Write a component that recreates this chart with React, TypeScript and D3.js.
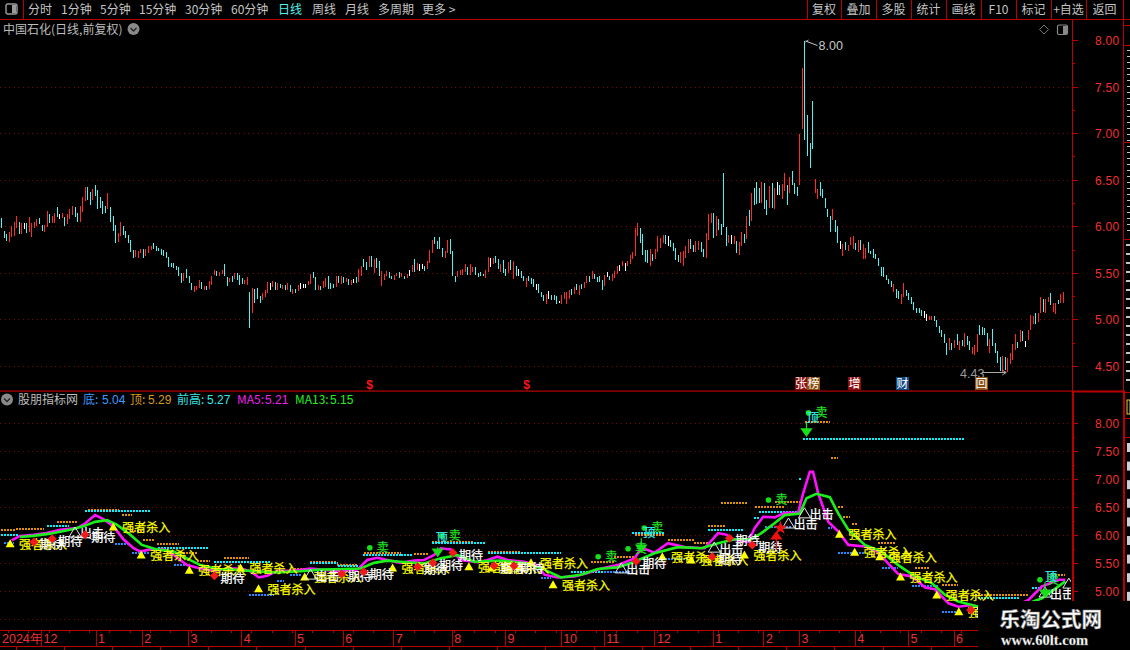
import React from "react";
import * as d3 from "d3";

type Tone = "r" | "c" | "w";
type Bar = [number, number, Tone];
const r: Tone = "r", c: Tone = "c", w: Tone = "w";

const barsEarly: Bar[] = [
[6.09,5.99,c],[5.95,5.88,c],[5.92,5.85,c],[5.94,5.84,r],[6.01,5.89,r],[6.05,5.90,r],[6.12,5.99,r],[6.05,5.92,c],[6.04,5.92,r],[6.04,5.98,w],
[6.04,5.93,c],[6.11,5.94,r],[6.04,5.89,r],[6.05,5.99,r],[6.08,6.01,r],[6.09,6.03,c],[6.02,5.95,c],[6.02,5.94,r],[6.17,6.00,r],[6.14,6.04,c],
[6.12,6.04,r],[6.15,6.04,r],[6.21,6.11,c],[6.14,6.08,w],[6.15,6.09,r],[6.11,6.01,c],[6.14,6.03,r],[6.19,6.08,r],[6.22,6.13,r],[6.21,6.11,c],
[6.15,6.05,c],[6.22,6.05,r],[6.32,6.16,r],[6.43,6.28,r],[6.43,6.29,c],[6.37,6.23,c],[6.41,6.29,r],[6.45,6.33,c],[6.40,6.19,c],[6.32,6.20,c],
[6.28,6.14,c],[6.22,6.15,c],[6.36,6.19,r],[6.21,6.05,c],[6.12,5.95,c],[6.02,5.83,c],[5.93,5.84,r],[6.05,5.90,r],[6.01,5.91,c],[5.95,5.88,c],
[5.91,5.83,c],[5.86,5.73,c],[5.75,5.66,c],[5.75,5.68,r],[5.74,5.66,r],[5.76,5.72,r],[5.76,5.66,c],[5.76,5.69,r],[5.79,5.72,r],[5.79,5.75,r],
[5.83,5.76,c],[5.79,5.74,c],[5.77,5.74,c],[5.76,5.70,c],[5.75,5.69,c],[5.73,5.66,c],[5.68,5.57,c],[5.61,5.57,c],[5.61,5.56,c],[5.58,5.54,c],
[5.57,5.47,c],[5.50,5.40,c],[5.50,5.42,r],[5.55,5.45,c],[5.47,5.40,c],[5.40,5.32,c],[5.36,5.30,r],[5.36,5.32,r],[5.43,5.34,r],[5.41,5.33,c],
[5.36,5.32,r],[5.36,5.32,c],[5.42,5.33,r],[5.47,5.37,r],[5.54,5.48,r],[5.53,5.47,c],[5.51,5.47,r],[5.54,5.49,r],[5.60,5.47,c],[5.46,5.36,c],
[5.45,5.41,r],[5.47,5.41,c],[5.50,5.44,r],[5.50,5.43,c],[5.48,5.37,c],[5.45,5.39,c],[5.43,5.39,r],[5.46,5.37,r],[5.30,4.91,c],[5.34,5.07,r],
[5.33,5.18,c],[5.34,5.22,c],[5.26,5.18,c],[5.29,5.21,r],[5.32,5.25,r],[5.41,5.29,r],[5.40,5.32,w],[5.42,5.35,r],[5.41,5.32,c],[5.40,5.32,r],
[5.39,5.34,c],[5.37,5.33,r],[5.37,5.32,c],[5.40,5.32,r],[5.37,5.30,c],[5.33,5.28,r],[5.33,5.29,c],[5.37,5.31,r],[5.40,5.33,w],[5.39,5.34,w],
[5.39,5.34,w],[5.42,5.37,r],[5.49,5.39,r],[5.51,5.45,c],[5.46,5.32,c],[5.37,5.32,r],[5.36,5.32,c],[5.42,5.34,r],[5.45,5.35,r],[5.47,5.33,c],
[5.40,5.33,c],[5.39,5.34,c],[5.47,5.35,r],[5.47,5.40,c],[5.47,5.39,r],[5.46,5.40,c],[5.45,5.41,r],[5.44,5.37,c],[5.43,5.37,r],[5.44,5.40,w],
[5.46,5.40,c],[5.55,5.41,r],[5.58,5.47,r],[5.65,5.57,c],[5.62,5.54,c],[5.69,5.57,r],[5.69,5.57,c],[5.65,5.50,r],[5.66,5.56,c],[5.63,5.47,c],
[5.52,5.36,r],[5.49,5.43,r],[5.52,5.47,r],[5.51,5.45,c],[5.47,5.44,c],[5.48,5.43,r],[5.50,5.47,r],[5.51,5.45,c],
];
const barsMiddle: Bar[] = [
[5.50,5.46,r],[5.47,5.44,c],[5.49,5.45,r],[5.54,5.47,w],[5.59,5.51,r],[5.65,5.51,c],[5.61,5.54,r],[5.60,5.52,w],[5.60,5.55,w],[5.58,5.52,c],
[5.63,5.55,r],[5.75,5.61,r],[5.86,5.72,r],[5.89,5.82,c],[5.85,5.76,c],[5.89,5.76,c],[5.77,5.68,c],[5.74,5.66,r],[5.86,5.72,r],[5.87,5.71,c],
[5.74,5.47,c],[5.47,5.41,c],[5.52,5.46,r],[5.54,5.48,r],[5.55,5.48,r],[5.60,5.51,r],[5.57,5.48,c],[5.60,5.48,r],[5.57,5.51,r],[5.57,5.48,c],
[5.50,5.46,c],[5.51,5.47,c],[5.49,5.47,c],[5.54,5.45,r],[5.68,5.51,r],[5.66,5.57,w],[5.66,5.60,r],[5.69,5.61,c],[5.65,5.55,c],[5.60,5.51,r],
[5.64,5.50,c],[5.55,5.47,c],[5.62,5.50,r],[5.64,5.54,c],[5.63,5.44,r],[5.58,5.47,c],[5.55,5.47,w],[5.52,5.45,c],[5.47,5.42,c],[5.45,5.35,r],
[5.47,5.42,c],[5.45,5.39,c],[5.44,5.35,c],[5.39,5.32,w],[5.39,5.29,c],[5.30,5.25,c],[5.27,5.20,c],[5.28,5.17,r],[5.31,5.22,w],[5.27,5.21,c],
[5.27,5.21,c],[5.26,5.17,c],[5.20,5.18,w],[5.27,5.17,r],[5.30,5.22,r],[5.30,5.17,r],[5.32,5.22,r],[5.33,5.27,c],[5.35,5.28,r],[5.39,5.32,c],
[5.37,5.27,r],[5.39,5.33,c],[5.41,5.34,r],[5.47,5.40,r],[5.47,5.41,c],[5.52,5.44,r],[5.49,5.44,c],[5.46,5.41,c],[5.47,5.41,c],[5.43,5.32,c],
[5.48,5.36,r],[5.51,5.46,w],[5.47,5.43,c],[5.49,5.42,r],[5.52,5.45,r],[5.58,5.49,r],[5.59,5.52,w],[5.63,5.58,r],[5.61,5.52,w],[5.63,5.58,r],
[5.70,5.60,r],[5.73,5.65,r],[5.99,5.69,r],[6.04,5.90,r],[5.99,5.83,c],[5.92,5.70,c],[5.75,5.62,c],[5.75,5.61,c],[5.76,5.58,r],[5.71,5.63,c],
[5.76,5.65,r],[5.90,5.73,r],[5.88,5.77,r],[5.91,5.83,r],[5.91,5.82,c],[5.90,5.79,w],[5.86,5.78,c],[5.83,5.74,c],[5.77,5.64,c],[5.70,5.62,c],
[5.73,5.61,r],[5.74,5.58,r],[5.79,5.66,r],[5.87,5.72,r],[5.87,5.76,c],[5.80,5.73,c],[5.85,5.73,r],[5.85,5.75,r],[5.84,5.73,c],[5.76,5.68,c],
[5.93,5.66,r],[6.14,5.86,r],[6.15,6.04,r],[6.15,5.88,c],[6.12,5.90,r],[6.08,5.97,c],[6.03,5.91,c],[6.58,6.00,c],[6.00,5.79,c],[5.91,5.83,r],
[5.91,5.82,w],[5.90,5.82,r],[5.85,5.72,c],[5.84,5.70,r],[5.94,5.79,r],[5.92,5.83,c],[6.12,5.87,r],[6.18,6.01,c],[6.36,6.06,r],[6.42,6.23,c],
[6.48,6.24,c],[6.42,6.26,c],[6.48,6.26,r],[6.47,6.19,c],[6.29,6.13,c],[6.44,6.20,r],[6.47,6.20,c],[6.42,6.19,r],[6.48,6.34,w],[6.45,6.34,c],
[6.46,6.30,r],[6.58,6.38,r],[6.45,6.23,c],[6.53,6.36,r],[6.60,6.45,c],[6.47,6.35,c],[6.43,6.33,c],
];
const barsLate: Bar[] = [
[7.00,6.45,r],[7.71,7.05,r],[8.00,6.93,c],[7.20,6.76,c],[6.90,6.63,c],[7.35,6.83,c],[6.51,6.36,r],[6.41,6.30,r],[6.48,6.33,c],[6.41,6.31,c],
[6.31,6.20,c],[6.19,6.10,c],[6.12,5.94,c],[6.19,6.07,r],[6.07,5.94,c],[6.01,5.83,c],[5.85,5.76,w],[5.81,5.69,r],[5.84,5.75,c],[5.80,5.74,r],
[5.89,5.80,r],[5.90,5.76,r],[5.83,5.75,c],[5.86,5.73,r],[5.86,5.75,c],[5.81,5.65,r],[5.77,5.65,r],[5.84,5.72,c],[5.74,5.71,c],[5.76,5.67,c],
[5.71,5.65,c],[5.66,5.58,c],[5.57,5.47,c],[5.57,5.46,c],[5.48,5.43,c],[5.44,5.39,c],[5.42,5.35,c],[5.39,5.30,r],[5.33,5.24,c],[5.31,5.22,c],
[5.28,5.17,r],[5.40,5.25,r],[5.32,5.26,c],[5.29,5.21,c],[5.25,5.17,c],[5.19,5.11,c],[5.13,5.07,c],[5.13,5.07,c],[5.11,5.04,c],[5.10,5.02,w],
[5.06,4.99,w],[5.04,5.00,r],[5.04,5.00,r],[5.04,4.99,c],[5.00,4.92,c],[4.93,4.86,c],[4.89,4.82,c],[4.85,4.75,c],[4.75,4.62,c],[4.81,4.68,r],
[4.75,4.68,c],[4.78,4.70,r],[4.85,4.73,c],[4.77,4.68,r],[4.78,4.72,c],[4.86,4.71,r],[4.83,4.73,c],[4.77,4.68,c],[4.71,4.63,r],[4.73,4.62,r],
[4.85,4.66,r],[4.95,4.84,c],[4.92,4.84,c],[4.91,4.84,c],[4.86,4.72,c],[4.80,4.64,r],[4.90,4.72,c],[4.75,4.64,c],[4.67,4.54,c],[4.60,4.45,c],
[4.61,4.44,r],[4.60,4.46,c],[4.59,4.44,r],[4.64,4.53,r],[4.74,4.57,r],[4.85,4.68,r],[4.76,4.70,c],[4.89,4.76,r],[4.88,4.77,c],[4.77,4.71,w],
[4.89,4.78,r],[5.05,4.89,r],[5.04,4.96,r],[5.07,4.96,c],[5.07,4.98,r],[5.25,5.07,r],[5.22,5.08,c],[5.23,5.07,r],[5.25,5.19,r],[5.29,5.16,c],
[5.18,5.09,r],[5.18,5.06,r],[5.21,5.17,c],[5.28,5.18,r],[5.30,5.18,r],
];
const bars: Bar[] = [...barsEarly, ...barsMiddle, ...barsLate];

const ma5: [number, number][] = [
[4.2,5.91],[7.5,5.99],[12.8,6.01],[18,6.04],[23.3,6.10],[30,6.13],[33.2,6.21],[37.1,6.36],[40.4,6.29],[44.4,6.16],[48.3,5.93],[52.3,5.77],[55,5.71],[58.9,5.75],[64.2,5.75],[68.1,5.65],[73.4,5.47],[78.7,5.41],[83.9,5.37],[89.2,5.41],[94.5,5.41],[98.4,5.36],[101.7,5.25],[105,5.28],[109,5.37],[115.5,5.37],[122.1,5.41],[126.1,5.39],[134,5.36],[140.6,5.39],[144.5,5.56],[148.5,5.60],[152.4,5.56],[157.7,5.51],
[163,5.55],[166.9,5.56],[170.9,5.65],[173.5,5.77],[177.5,5.75],[181.4,5.56],[188,5.52],[192,5.56],[195.9,5.62],[199.9,5.56],[206.4,5.53],[211.7,5.47],[214.4,5.30],[219.6,5.25],[226.2,5.27],[231.5,5.33],[236.8,5.41],[243.3,5.47],[249.9,5.59],[252.6,5.77],[255.2,5.74],[257.8,5.69],[263.1,5.86],[269.7,5.79],[277.6,5.77],[282.9,6.04],[286.2,6.01],[289.5,5.92],[294.7,5.88],
[297.4,6.13],[300.7,6.33],[305.3,6.32],[309.2,6.40],[314.5,6.40],[316.5,6.75],[319.1,7.13],[320.4,7.13],[322.4,6.75],[326.4,6.24],[330.3,6.07],[334.3,5.83],[340.8,5.80],[344.8,5.74],[348.8,5.56],[354,5.31],[359.3,5.27],[364.6,5.07],[368.5,5.04],[373.8,4.79],[377.7,4.73],[383,4.76],[394,4.62],[405.4,4.85],[410.7,5.09],[417.3,5.21],[419.9,5.21],
];
const ma13: [number, number][] = [
[7.5,5.97],[12.8,5.99],[19.4,6.03],[27.3,6.10],[32.5,6.16],[37.1,6.24],[41.8,6.27],[45.7,6.19],[51,6.01],[55.6,5.83],[61.5,5.75],[68.1,5.71],[74.7,5.56],[78.7,5.47],[85.2,5.40],[91.8,5.39],[99.7,5.36],[109,5.34],[118.2,5.36],[126.1,5.39],[135.3,5.40],[141.9,5.41],[147.2,5.51],[152.4,5.55],[157.7,5.53],
[166.9,5.50],[173.5,5.59],[180.1,5.65],[186.7,5.53],[197.2,5.55],[207.8,5.50],[214.4,5.39],[220.9,5.25],[228.8,5.30],[235.4,5.40],[243.3,5.43],[249.9,5.53],[257.8,5.68],[267,5.79],[276.3,5.77],[282.9,5.86],[289.5,5.93],
[296,5.93],[300,6.04],[305.3,6.22],[309.2,6.36],[315.2,6.39],[317.8,6.66],[321.7,6.74],[327,6.68],[330.3,6.39],[334.3,6.10],[340.8,5.83],[347.4,5.71],[354,5.47],[360.6,5.27],[367.2,5.15],[372.5,4.94],[377.7,4.82],[383,4.76],[395,4.62],[410.7,4.88],[419.9,5.18],
];

type Seg = [number, number, number];
const prevHigh: Seg[] = [
[0,7,6.01],[18,27,6.17],[33,59,6.44],[62,82,5.78],[84,106,5.53],[122,133,5.50],[133,141,5.46],[143,158,5.65],[158,162,5.65],[170,191,5.86],[192,221,5.68],[225,238,5.34],[249,262,6.04],[279,293,6.10],[297,299,6.31],[299,315,6.42],[315,316,7.0],[316.5,380.4,7.72],[385.6,401.5,4.89],[406.7,410.7,5.06],
];
const topBand: Seg[] = [
[0,5.5,6.10],[6,17,6.11],[22,30.5,6.23],[34.5,46.4,6.45],[47.7,51.6,6.36],[52.3,56.2,6.07],[56.2,60.9,5.92],[61.5,70.1,5.84],[70.7,77.3,5.68],[77.3,82.6,5.55],[87.9,97.8,5.60],[115.5,121.5,5.40],[122,132.7,5.53],[132.7,140.6,5.47],[143.2,157.7,5.69],[163,169,5.66],[170.2,186.7,5.88],[192,205.1,5.70],[232.8,242,5.53],[242,250,5.62],[250,261.8,6.01],[263,273.6,5.92],[273.6,279,5.87],[279,285.5,6.16],[284,294.7,6.58],[297.4,309.2,6.50],[305.3,315.2,6.60],[317.1,327,8.02],[327.4,330.3,7.37],[330.3,332.3,6.51],[332.3,334.9,6.32],[335.6,338.2,6.20],[346.1,352.7,5.87],[360.6,366.5,5.41],[371.1,377.7,5.12],[383,405.4,4.94],[414.6,419.9,5.30],
];
const lowBand: Seg[] = [
[1,5,5.87],[45,51,5.84],[51.6,58.2,5.68],[68.1,74.7,5.47],[97.8,107.6,4.93],[109,111.6,5.19],[114.2,118.2,5.30],[213,217,5.24],[238,248.6,5.34],[261.8,271,5.58],[301.3,311.8,6.14],[326.4,327.7,6.13],[330.3,340.8,5.69],[347.4,354,5.42],[359.3,369.8,5.09],[371.1,377.7,4.64],
];

const strongEntry: [number, number][] = [[3.6,5.85],[44.3,6.15],[55.3,5.65],[74.3,5.38],[94.5,5.42],[101.6,5.05],[119.8,5.26],[154.5,5.42],[184.6,5.44],[193.7,5.42],[209.1,5.51],[217.8,5.12],[260.9,5.62],[272.3,5.56],[293.3,5.65],[330.8,6.02],[336.8,5.70],[346.7,5.62],[354.9,5.26],[369.2,4.94],[377.9,4.64]];
const expectPts: [number, number][] = [[13,5.88],[20.2,5.94],[33.2,6.01],[84.2,5.28],[134.4,5.31],[143.1,5.35],[164.4,5.44],[170.4,5.51],[178.3,5.69],[194.5,5.46],[202.4,5.46],[250.6,5.54],[280.6,5.62],[287.4,5.95],[296.4,5.83],[382.6,4.67]];
const strikePts: [number, number][] = [[29.2,6.06],[122.1,5.31],[244.7,5.42],[281.4,5.79],[310.7,6.22],[317,6.40],[411.9,4.99],[421.3,5.15]];
const sellPts: [number, number][] = [[145.5,5.78],[173.9,5.99],[235.6,5.62],[247.4,5.76],[253.8,6.13],[302.8,6.63],[318.6,8.18],[409.9,5.21]];
const peakPts: [number, number][] = [[171.5,5.97],[253.4,6.06],[317.8,8.11],[411.9,5.28]];
const downArrows: Seg[] = [[172.3,5.79,5.63],[252.6,5.95,5.70],[317.8,8.0,7.77],[411.9,5.17,4.90]];
const upArrows: Seg[] = [[305.9,5.74,6.06]];
const stars: [number, number][] = [[307.5,6.13]];

const upperTicks = [8, 7.5, 7, 6.5, 6, 5.5, 5, 4.5];
const monthLabels = ["12","1","2","3","4","5","6","7","8","9","10","11","12","1","2","3","4","5","6"];
const monthBars = [16,37.5,55.7,74,95,116,135,155,178,199,221,238,258,281,301,315,337,358,376];
const menuLeft = ["分时","1分钟","5分钟","15分钟","30分钟","60分钟","日线","周线","月线","多周期","更多 >"];
const menuLeftPos = [28,61,100,139,185,231,278,312,345,378,422];
const menuRight = ["复权","叠加","多股","统计","画线","F10","标记","+自选","返回"];
const menuRightEdges = [807,841,876,911,946,981,1016,1051,1086,1123];
const legendItems: [string, string, number, number, string][] = [
  ["底:","5.04",83,102,"#3f9bff"],["顶:","5.29",130,148,"#d99a1c"],["前高:","5.27",177,207,"#35e6e6"],["MA5:","5.21",237,265,"#ee22ee"],["MA13:","5.15",295,330,"#22ee22"],
];
const eventIcons: [string, number, number, string][] = [["张",795,12,"#8c0f0f"],["榜",807,13,"#8a4f12"],["增",848,13,"#8c0f0f"],["财",896,13,"#104a80"],["回",975,13,"#8a4f12"]];
const dividendBars = [146, 208];
const sidebarDense = d3.range(50, 232, 6);
const sidebarLoose = d3.range(244, 386, 9);
const sidebarStubs = [25,45,142,239,392,418,437];

const cjk = "'Noto Sans CJK SC', 'Liberation Sans', sans-serif";
const num = "'Liberation Sans', Arial, sans-serif";
const toneColor: Record<Tone, string> = { r: "#ff2b2b", c: "#4cf4f4", w: "#ffffff" };
const RED = "#b80000";
const AXIS = "#f03030";

export default function App() {
  const x = d3.scaleLinear().domain([0, bars.length - 1]).range([1, 1063]);
  const yTop = d3.scaleLinear().domain([8, 4.5]).range([40.5, 366.5]);
  const yLow = d3.scaleLinear().domain([8, 4.5]).range([423, 619.6]);
  const line = d3.line<[number, number]>().x((d) => x(d[0])).y((d) => yLow(d[1]));
  const quarter = d3.range(4.5, 8.01, 0.25);
  const weekTicks = d3.range(3, bars.length, 8);
  const bottomTicks = d3.range(6, bars.length, 19);

  const dotted = (segs: Seg[], color: string, key: string) =>
    segs.map((s, i) => (
      <line key={key + i} x1={x(s[0])} x2={x(s[1])} y1={Math.round(yLow(s[2]))} y2={Math.round(yLow(s[2]))}
        stroke={color} strokeWidth={2} strokeDasharray="2 1" shapeRendering="crispEdges" />
    ));
  const txt = (s: string, px: number, py: number, fill: string, size = 12, family = cjk, extra: any = {}) => (
    <text x={px} y={py} fill={fill} fontSize={size} fontFamily={family} {...extra}>{s}</text>
  );
  const heavy = { strokeWidth: 0.25 };

  return (
    <svg width={1130} height={650} style={{ position: "fixed", left: 0, top: 0, background: "#000" }}>
      <defs>
        <clipPath id="lowerClip"><rect x={0} y={393} width={1071} height={240} /></clipPath>
      </defs>
      <rect width={1130} height={650} fill="#000" />

      {/* toolbar */}
      <line x1={0} x2={1130} y1={19.5} y2={19.5} stroke={RED} shapeRendering="crispEdges" />
      <line x1={23.5} x2={23.5} y1={0} y2={19} stroke={RED} shapeRendering="crispEdges" />
      <rect x={6} y={4} width={11} height={10} rx={2} fill="none" stroke="#9a9a9a" strokeWidth={1.4} />
      <rect x={12} y={5} width={4} height={8} fill="#9a9a9a" />
      {menuLeft.map((m, i) => (
        <text key={m} x={menuLeftPos[i]} y={14} fontSize={12} fontFamily={cjk} fill={m === "日线" ? "#55f0f0" : "#c4c4c4"}>{m}</text>
      ))}
      {menuRightEdges.map((e) => (
        <line key={e} x1={e + 0.5} x2={e + 0.5} y1={0} y2={19} stroke={RED} shapeRendering="crispEdges" />
      ))}
      {menuRight.map((m, i) => (
        <text key={m} x={(menuRightEdges[i] + menuRightEdges[i + 1]) / 2} y={14} textAnchor="middle" fontSize={12} fontFamily={cjk} fill="#c4c4c4">{m}</text>
      ))}

      {/* title */}
      {txt("中国石化(日线,前复权)", 3, 33.5, "#bdbdbd")}
      <circle cx={133.5} cy={29} r={6} fill="#8a8a8a" />
      <path d="M130.5 28 L133.5 31 L136.5 28" fill="none" stroke="#222" strokeWidth={1.3} />
      <path d="M1044 25 L1048.5 29.5 L1044 34 L1039.5 29.5 Z" fill="none" stroke="#777" />
      <rect x={1057.5} y={25} width={10} height={9.5} rx={1.5} fill="none" stroke="#888" strokeWidth={1.2} />
      <rect x={1063} y={26} width={4} height={8} fill="#888" />

      {/* axes */}
      <line x1={1072.5} x2={1072.5} y1={19} y2={391} stroke={RED} shapeRendering="crispEdges" />
      <rect x={1072} y={391} width={2} height={210} fill={RED} />
      <rect x={1123} y={391} width={2} height={210} fill={RED} />
      <line x1={1123.5} x2={1123.5} y1={0} y2={391} stroke={RED} shapeRendering="crispEdges" />
      <rect x={0} y={390.5} width={1125} height={1.2} fill={RED} />
      <rect x={1074} y={391} width={50} height={1.5} fill={RED} />
      {sidebarStubs.map((s) => (
        <line key={s} x1={1124} x2={1130} y1={s + 0.5} y2={s + 0.5} stroke={RED} shapeRendering="crispEdges" />
      ))}
      <rect x={1127} y={400} width={3} height={14} fill="none" stroke="#e0d040" />

      {upperTicks.map((t) => (
        <g key={"u" + t}>
          <line x1={0} x2={1072} y1={yTop(t)} y2={yTop(t)} stroke={t === 8 ? "none" : "#7d0a0a"} strokeDasharray="1 3.6" shapeRendering="crispEdges" />
          <text x={1095} y={yTop(t) + 4.5} fill={AXIS} fontSize={12} letterSpacing={0.3} fontFamily={num}>{t.toFixed(2)}</text>
        </g>
      ))}
      {quarter.map((t) => (
        <line key={"ut" + t} x1={1073} x2={t % 0.5 === 0 ? 1078 : 1075} y1={yTop(t)} y2={yTop(t)} stroke={RED} shapeRendering="crispEdges" />
      ))}
      {upperTicks.map((t) => (
        <g key={"l" + t}>
          <line x1={0} x2={1072} y1={yLow(t)} y2={yLow(t)} stroke="#7d0a0a" strokeDasharray="1 3.6" shapeRendering="crispEdges" />
          {t >= 5 && <text x={1095} y={yLow(t) + 4.5} fill={AXIS} fontSize={12} letterSpacing={0.3} fontFamily={num}>{t.toFixed(2)}</text>}
        </g>
      ))}
      {quarter.filter((t) => t >= 5).map((t) => (
        <line key={"lt" + t} x1={1073} x2={t % 0.5 === 0 ? 1078 : 1075} y1={yLow(t)} y2={yLow(t)} stroke={RED} shapeRendering="crispEdges" />
      ))}

      {/* candles */}
      {bars.map((b, i) => (
        <rect key={i} x={Math.round(x(i))} width={1} y={yTop(b[0])} height={Math.max(1, yTop(b[1]) - yTop(b[0]))}
          fill={toneColor[b[2]]} shapeRendering="crispEdges" />
      ))}

      {/* high / low notes */}
      <path d={`M${x(317) + 1} 42 l3 -2 M${x(317) + 1} 41 L${x(317) + 13} 45.5`} stroke="#c8c8c8" fill="none" />
      {txt("8.00", 818.5, 50, "#c8c8c8", 12.5, num)}
      {txt("4.43", 960, 378, "#9a9a9a", 12.5, num)}
      <path d={`M982 372.5 H${x(397) - 1} M${x(397) - 5} 370 L${x(397) - 1} 372.5 L${x(397) - 5} 375`} stroke="#a8a8a8" fill="none" />

      {/* events */}
      {dividendBars.map((d) => (
        <text key={d} x={x(d) - 1.5} y={389} textAnchor="middle" fontSize={12} fontWeight="bold" fontFamily={num} fill="#ff1414">$</text>
      ))}
      {eventIcons.map(([s, px, wd, bg]) => (
        <g key={s}>
          <rect x={px} y={377} width={wd} height={13} fill={bg} />
          <text x={px + wd / 2} y={388} textAnchor="middle" fontSize={12} fontFamily={cjk} fill="#fff">{s}</text>
        </g>
      ))}

      {/* indicator header */}
      <circle cx={7} cy={399.5} r={6} fill="#8a8a8a" />
      <path d="M4 398.5 L7 401.5 L10 398.5" fill="none" stroke="#222" strokeWidth={1.3} />
      {txt("股朋指标网", 18, 404, "#bdbdbd")}
      {legendItems.map(([a, b, xa, xb, col]) => (
        <g key={a}>
          {txt(a, xa, 404, col)}
          {txt(b, xb, 404, col, 12, num)}
        </g>
      ))}

      {/* indicator */}
      <g clipPath="url(#lowerClip)">
        {dotted(topBand, "#e09000", "o")}
        {dotted(prevHigh, "#00f4ff", "p")}
        {dotted(lowBand, "#2488ff", "b")}
        <path d={line(ma5) ?? ""} fill="none" stroke="#ff10ff" strokeWidth={2.6} />
        <path d={line(ma13) ?? ""} fill="none" stroke="#1cf01c" strokeWidth={2.6} />

        {strongEntry.map(([i, p], k) => (
          <g key={"s" + k}>
            <path d={`M${x(i)} ${yLow(p) - 4.5} l4.5 8 h-9 Z`} fill="#ffff00" />
            <text x={x(i) + 9} y={yLow(p) + 5} fontSize={12} fontFamily={cjk} fill="#ffff00" stroke="#ffff00" {...heavy}>强者杀入</text>
          </g>
        ))}
        {strikePts.map(([i, p], k) => (
          <g key={"k" + k}>
            <path d={`M${x(i)} ${yLow(p) - 5} l6 10 h-12 Z`} fill="none" stroke="#e8e8e8" />
            <text x={x(i) + 5} y={yLow(p) + 6.5} fontSize={12} fontFamily={cjk} fill="#fff" stroke="#fff" {...heavy}>出击</text>
          </g>
        ))}
        {expectPts.map(([i, p], k) => (
          <g key={"e" + k}>
            <path d={`M${x(i)} ${yLow(p) - 4.5} l4.5 4.5 l-4.5 4.5 l-4.5 -4.5 Z`} fill="#f21a1a" />
            <text x={x(i) + 6} y={yLow(p) + 7} fontSize={12} fontFamily={cjk} fill="#fff" stroke="#fff" {...heavy}>期待</text>
          </g>
        ))}
        {sellPts.map(([i, p], k) => (
          <g key={"l" + k}>
            <circle cx={x(i)} cy={yLow(p)} r={2.8} fill="#18e018" />
            <text x={x(i) + 7} y={yLow(p) + 4} fontSize={12} fontFamily={cjk} fill="#22dd22" stroke="#22dd22" {...heavy}>卖</text>
          </g>
        ))}
        {peakPts.map(([i, p], k) => (
          <text key={"t" + k} x={x(i)} y={yLow(p) + 5} fontSize={12} fontFamily={cjk} fill="#36e8e8" stroke="#36e8e8" {...heavy}>顶</text>
        ))}
        {downArrows.map(([i, a, b], k) => (
          <path key={"d" + k} d={`M${x(i)} ${yLow(a)} V${yLow(b) - 6} M${x(i) - 5} ${yLow(b) - 7} h10 l-5 7 Z`} fill="#18e018" stroke="#18e018" strokeWidth={1.2} />
        ))}
        {upArrows.map(([i, a, b], k) => (
          <path key={"u" + k} d={`M${x(i)} ${yLow(a)} V${yLow(b) + 6} M${x(i) - 5} ${yLow(b) + 7} h10 l-5 -7 Z`} fill="#f01010" stroke="#f01010" strokeWidth={1.2} />
        ))}
        {stars.map(([i, p], k) => (
          <path key={"r" + k} transform={`translate(${x(i)},${yLow(p)})`} d={d3.symbol(d3.symbolStar, 60)() ?? ""} fill="#f01010" />
        ))}
      </g>

      {/* date axis */}
      <line x1={0} x2={1071} y1={630.5} y2={630.5} stroke={RED} shapeRendering="crispEdges" />
      <line x1={0} x2={1071} y1={646.5} y2={646.5} stroke={RED} shapeRendering="crispEdges" />
      {weekTicks.map((t) => (
        <line key={"w" + t} x1={x(t)} x2={x(t)} y1={631} y2={633} stroke={RED} shapeRendering="crispEdges" />
      ))}
      {bottomTicks.map((t) => (
        <line key={"b" + t} x1={x(t)} x2={x(t)} y1={647} y2={650} stroke={RED} shapeRendering="crispEdges" />
      ))}
      {txt("2024年", 2, 643, AXIS, 12.5, num)}
      {monthBars.map((m, i) => (
        <g key={"m" + i}>
          <line x1={x(m)} x2={x(m)} y1={631} y2={646} stroke={RED} shapeRendering="crispEdges" />
          <text x={x(m) + 2} y={643} fill={AXIS} fontSize={12.5} fontFamily={num}>{monthLabels[i]}</text>
        </g>
      ))}

      {/* sidebar */}
      {sidebarDense.map((s) => (
        <rect key={"sd" + s} x={1127} y={s} width={3} height={1} fill="#c4c4c4" />
      ))}
      {sidebarLoose.map((s) => (
        <rect key={"sl" + s} x={1126} y={s} width={4} height={2} fill="#c4c4c4" />
      ))}
      {d3.range(0, 9).map((i) => (
        <rect key={"sr" + i} x={1127} y={443 + i * 18.6} width={3} height={9} fill="#cfcfcf" />
      ))}

      {/* watermark */}
      <rect x={978} y={601} width={152} height={49} fill="#000" />
      <text x={999.5} y={626.5} fontSize={20.5} fontWeight="bold" fontFamily={cjk} fill="#fff" stroke="#8a8a8a" strokeWidth={0.6}>乐淘公式网</text>
      <text x={1001} y={645} fontSize={14.5} fontWeight="bold" fontFamily="'Liberation Serif', serif" fill="#fff" stroke="#8a8a8a" strokeWidth={0.3}>www.60lt.com</text>
    </svg>
  );
}
